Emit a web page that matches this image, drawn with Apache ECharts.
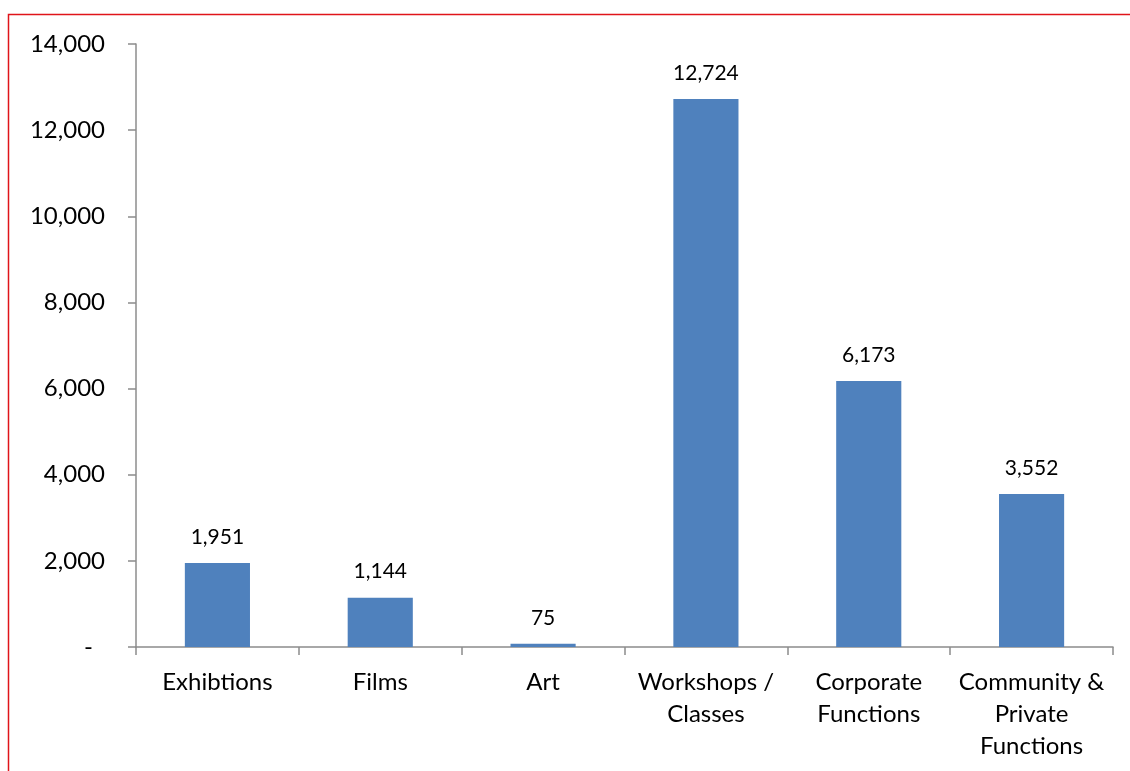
<!DOCTYPE html>
<html>
<head>
<meta charset="utf-8">
<script src="https://cdn.jsdelivr.net/npm/echarts@6/dist/echarts.min.js"></script>
<style>
  html, body { margin: 0; padding: 0; background: #fff; }
  #chart { width: 1130px; height: 771px; }
</style>
</head>
<body>
<div id="chart"></div>
<script>
// Attendance by activity type
const categories = ['Exhibtions', 'Films', 'Art', 'Workshops /\nClasses', 'Corporate\nFunctions', 'Community &\nPrivate\nFunctions'];
const attendance = [1951, 1144, 75, 12724, 6173, 3552];
const yTicks = { min: 0, max: 14000, step: 2000 };

const FONT = 'Lato';
const fmt = v => Math.round(v).toLocaleString('en-US');

const chart = echarts.init(document.getElementById('chart'), null, { renderer: 'canvas' });

chart.setOption({
  backgroundColor: '#ffffff',
  animation: false,
  grid: { left: 136, right: 17, top: 44, bottom: 124, containLabel: false },
  graphic: [{
    type: 'rect',
    silent: true,
    shape: { x: 8.5, y: 14.5, width: 1300, height: 900 },
    style: { fill: 'none', stroke: '#e0141a', lineWidth: 1.5 }
  }],
  xAxis: {
    type: 'category',
    data: categories,
    boundaryGap: true,
    axisLine: { show: true, lineStyle: { color: '#8c8c8c', width: 1.5 } },
    axisTick: { show: true, length: 8, lineStyle: { color: '#8c8c8c', width: 1.5 } },
    axisLabel: {
      interval: 0,
      margin: 19,
      color: '#000',
      fontFamily: FONT,
      fontSize: 24,
      lineHeight: 32,
      align: 'center'
    },
    splitLine: { show: false }
  },
  yAxis: {
    type: 'value',
    min: yTicks.min,
    max: yTicks.max,
    interval: yTicks.step,
    axisLine: { show: true, lineStyle: { color: '#8c8c8c', width: 1.5 } },
    axisTick: { show: true, length: 8, lineStyle: { color: '#8c8c8c', width: 1.5 } },
    axisLabel: {
      margin: 31,
      color: '#000',
      fontFamily: FONT,
      fontSize: 24,
      formatter: v => v === 0 ? '{z|-}' : fmt(v),
      rich: { z: { fontFamily: FONT, fontSize: 24, color: '#000', padding: [0, 12, 0, 0] } }
    },
    splitLine: { show: false }
  },
  series: [{
    type: 'bar',
    data: attendance,
    barWidth: '40%',
    itemStyle: { color: '#4f81bd' },
    label: {
      show: true,
      position: 'top',
      distance: 16,
      color: '#000',
      fontFamily: FONT,
      fontSize: 21,
      lineHeight: 20,
      formatter: p => fmt(p.value)
    }
  }]
});
</script>
</body>
</html>
